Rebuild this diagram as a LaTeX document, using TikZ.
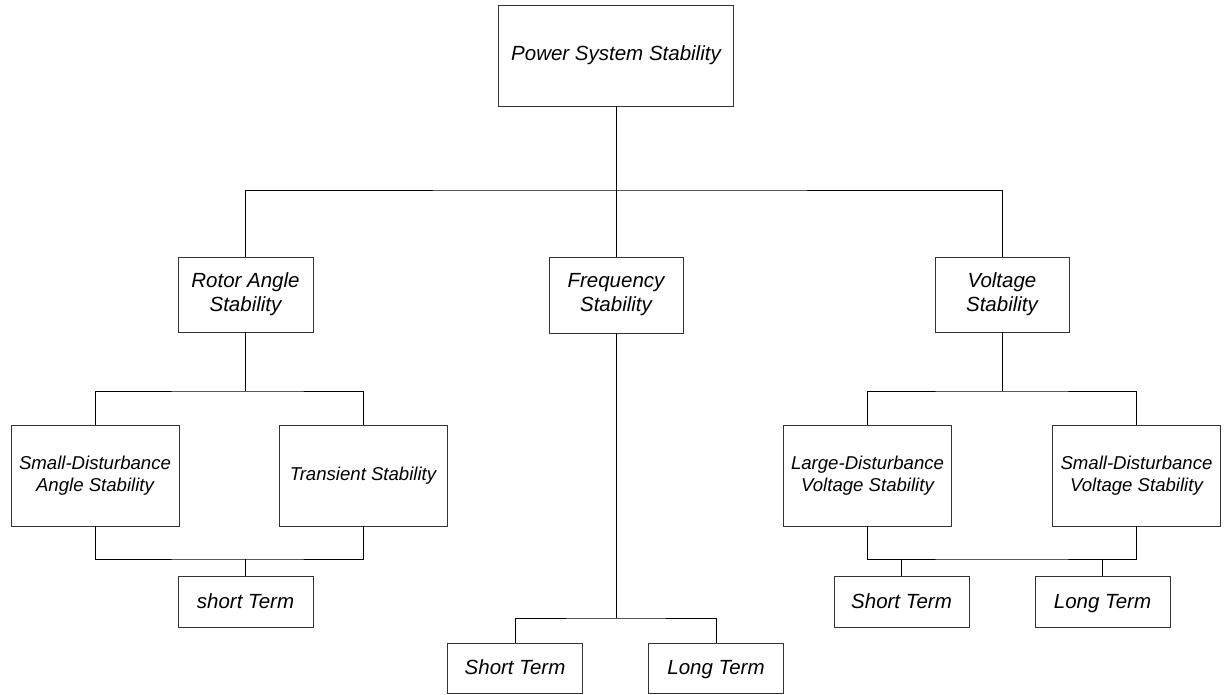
\documentclass[tikz,border=0pt]{standalone}
\usepackage{fontspec}
\setmainfont{Liberation Sans}
\usepackage{xcolor}
\usetikzlibrary{positioning}

\begin{document}
\begin{tikzpicture}[x=1pt, y=-1pt,
	box/.style = {rectangle, draw=black!80, line width=0.7pt, inner sep=0pt, align=center,
		font=\fontsize{20.5}{24}\selectfont\itshape},
	bigbox/.style = {box, minimum width=168pt, minimum height=101pt,
		font=\fontsize{18.6}{22.5}\selectfont\itshape},
	termbox/.style = {box, minimum width=135pt, minimum height=51pt, text height=16pt, text depth=2.5pt},
	wire/.style = {-, line width=0.9pt, draw=black}]
	\useasboundingbox (0,0) rectangle (1227,694);
	
	\node[box, minimum width=235pt, minimum height=101pt] (s0) at (616, 55.5) {Power System Stability};
	
	\node[box, minimum width=135pt, minimum height=75pt] (r0) at (245.5, 294.5) {Rotor Angle\\Stability};
	\node[box, minimum width=134pt, minimum height=76pt] (f0) at (616, 295) {Frequency\\Stability};
	\node[box, minimum width=134pt, minimum height=75pt] (v0) at (1002, 294.5) {Voltage\\Stability};
	
	\node[bigbox] (r1) at (95, 475.5) {Small-Disturbance\\Angle Stability};
	\node[bigbox] (r2) at (363, 475.5) {Transient Stability};
	\node[termbox] (r3) at (245.5, 601.5) {short Term};
	
	\node[termbox, minimum height=50pt] (f1) at (515, 668) {Short Term};
	\node[termbox, minimum height=50pt] (f2) at (716, 668) {Long Term};
	
	\node[bigbox] (v1) at (867.5, 475.5) {Large-Disturbance\\Voltage Stability};
	\node[bigbox] (v2) at (1136.5, 475.5) {Small-Disturbance\\Voltage Stability};
	\node[termbox] (v3) at (901.5, 601.5) {Short Term};
	\node[termbox] (v4) at (1102.5, 601.5) {Long Term};
	
	\coordinate (j0) at (616, 190);
	\coordinate (j1) at (245.5, 391);
	\coordinate (j2) at (245.5, 559);
	\coordinate (j3) at (616, 618);
	\coordinate (j4) at (1002, 391);
	\coordinate (j5) at (1002, 559);
	
	\draw[wire] (s0.south) to (f0.north);
	\draw[wire] (r0.north) |- (j0) -| (v0.north);
	
	\draw[wire] (r0.south) to (j1);
	\draw[wire] (r1.north) |- (j1) -| (r2.north);
	\draw[wire] (r1.south) |- (j2) -| (r2.south);
	\draw[wire] (j2) to (r3.north);
	
	\draw[wire] (f0.south) to (j3);
	\draw[wire] (f1.north) |- (j3) -| (f2.north);
	
	\draw[wire] (v0.south) to (j4);
	\draw[wire] (v1.north) |- (j4) -| (v2.north);
	\draw[wire] (v1.south) |- (j5) -| (v2.south);
	\draw[wire] (v3.north) to (v3.north |- j5);
	\draw[wire] (v4.north) to (v4.north |- j5);
\end{tikzpicture}
\end{document}
